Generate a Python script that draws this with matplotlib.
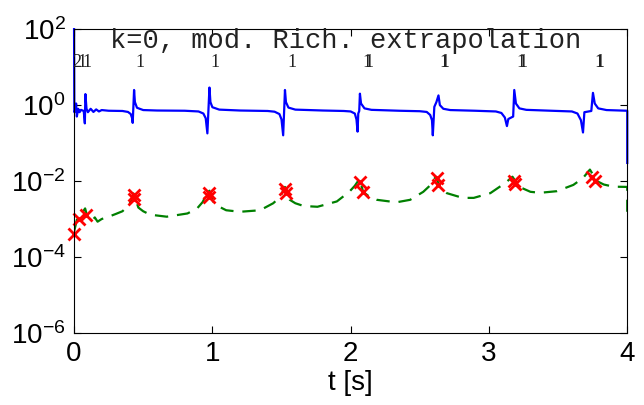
import matplotlib
matplotlib.use("Agg")
import matplotlib.pyplot as plt

plt.rcParams["font.family"] = ["Liberation Sans", "DejaVu Sans"]
plt.rcParams["mathtext.fontset"] = "custom"
plt.rcParams["mathtext.rm"] = "Liberation Sans"
plt.rcParams["mathtext.it"] = "Liberation Sans:italic"

# blue curve
t_blue = [0.0, 0.002, 0.01, 0.015, 0.02, 0.03, 0.04, 0.05, 0.07, 0.078, 0.082,
          0.09, 0.1, 0.12, 0.14, 0.16, 0.18, 0.2, 0.25, 0.35,
          0.39, 0.41, 0.42, 0.424, 0.434, 0.44, 0.455, 0.5, 0.6, 0.8,
          0.9, 0.935, 0.952, 0.964, 0.979, 0.986, 1.0, 1.05, 1.2, 1.4,
          1.45, 1.485, 1.5, 1.512, 1.525, 1.532, 1.55, 1.6, 1.8, 1.95,
          2.0, 2.03, 2.042, 2.05, 2.055, 2.062, 2.067, 2.075, 2.1, 2.15, 2.35, 2.5,
          2.55, 2.575, 2.588, 2.594, 2.605, 2.62, 2.635, 2.645, 2.67, 2.72, 2.9, 3.05,
          3.09, 3.115, 3.13, 3.14, 3.175, 3.183, 3.195, 3.22, 3.27, 3.45, 3.6,
          3.64, 3.665, 3.68, 3.69, 3.74, 3.752, 3.765, 3.79, 3.85, 4.0, 4.0]
y_blue = [100, 0.65, 0.75, 1.1, 0.5, 0.8, 0.65, 0.75, 0.7, 0.33, 1.95,
          0.8, 0.65, 0.8, 0.66, 0.77, 0.68, 0.74, 0.71, 0.7,
          0.66, 0.58, 0.45, 0.34, 2.5, 1.2, 0.85, 0.74, 0.72, 0.71,
          0.68, 0.6, 0.45, 0.18, 2.9, 1.2, 0.88, 0.76, 0.72, 0.7,
          0.67, 0.58, 0.42, 0.16, 2.5, 1.2, 0.86, 0.76, 0.72, 0.7,
          0.68, 0.6, 0.42, 0.2, 0.6, 0.7, 2.0, 1.1, 0.82, 0.75, 0.71, 0.69,
          0.66, 0.55, 0.4, 0.16, 0.9, 1.2, 1.8, 1.0, 0.8, 0.74, 0.71, 0.68,
          0.62, 0.47, 0.28, 0.43, 0.5, 2.5, 1.1, 0.82, 0.75, 0.71, 0.68,
          0.6, 0.4, 0.19, 0.65, 0.7, 2.1, 1.1, 0.82, 0.74, 0.71, 0.03]

# green dashed curve
t_green = [0.0, 0.02, 0.05, 0.08, 0.1, 0.13, 0.15, 0.17, 0.2, 0.25, 0.3, 0.35, 0.4, 0.43,
           0.465, 0.5, 0.55, 0.67, 0.82, 0.89, 0.93, 0.975,
           1.005, 1.05, 1.1, 1.2, 1.345, 1.44, 1.49, 1.525,
           1.56, 1.6, 1.66, 1.76, 1.9, 1.99, 2.03, 2.065,
           2.09, 2.13, 2.19, 2.33, 2.43, 2.525, 2.58, 2.615,
           2.65, 2.695, 2.81, 2.89, 3.01, 3.12, 3.17,
           3.22, 3.3, 3.37, 3.49, 3.61, 3.68, 3.73,
           3.78, 3.83, 3.9, 4.0, 4.0]
y_green = [4.6e-4, 9.5e-4, 1.3e-3, 1.9e-3, 1.0e-3, 9e-4, 1.1e-3, 8.5e-4, 1.0e-3, 1.15e-3, 1.35e-3, 1.6e-3, 2.4e-3, 4.7e-3,
           2.0e-3, 1.6e-3, 1.3e-3, 1.15e-3, 1.4e-3, 1.9e-3, 2.8e-3, 6.0e-3,
           2.9e-3, 2.1e-3, 1.7e-3, 1.55e-3, 1.7e-3, 2.6e-3, 3.8e-3, 7.0e-3,
           3.2e-3, 2.6e-3, 2.2e-3, 2.1e-3, 2.9e-3, 5.2e-3, 7.5e-3, 1.15e-2,
           5.2e-3, 4.0e-3, 3.2e-3, 2.75e-3, 3.2e-3, 5.2e-3, 8.0e-3, 1.3e-2,
           6.5e-3, 4.8e-3, 3.6e-3, 3.6e-3, 4.8e-3, 9.0e-3, 1.3e-2,
           7.0e-3, 5.2e-3, 4.9e-3, 5.4e-3, 7.9e-3, 1.2e-2, 2.0e-2,
           1.0e-2, 8.1e-3, 7.1e-3, 7.0e-3, 1.55e-3]

# red crosses
t_red = [0.0, 0.038, 0.087, 0.43, 0.435, 0.977, 0.977, 1.526, 1.53,
         2.07, 2.088, 2.623, 2.63, 3.183, 3.19, 3.745, 3.77]
y_red = [4.1e-4, 9.8e-4, 1.3e-3, 4.3e-3, 3.4e-3, 4.9e-3, 3.8e-3, 6.2e-3, 4.9e-3,
         9.6e-3, 5.2e-3, 1.17e-2, 7.9e-3, 1.0e-2, 8.5e-3, 1.3e-2, 1.0e-2]

# small labels along the top
t_lab = [0.02, 0.06, 0.09, 0.477, 1.02, 1.575, 2.12, 2.13, 2.672, 2.682,
         3.233, 3.243, 3.795, 3.805]
s_lab = ["2", "1", "1", "1", "1", "1", "1", "1", "1", "1", "1", "1", "1", "1"]

fig = plt.figure(figsize=(6.44, 4.05), dpi=100)
ax = fig.add_axes([0.115, 0.178, 0.859, 0.75])

ax.plot(t_blue, y_blue, color="#0000ff", lw=1.6, clip_on=False)
ax.plot(t_green, y_green, color="#008000", lw=1.6, dashes=(6, 4))
ax.plot(t_red, y_red, "x", color="#ff0000", ms=8, mew=2, clip_on=False)

for t, s in zip(t_lab, s_lab):
    ax.text(t, 13, s, ha="center", va="center", fontsize=13,
            family="Liberation Serif", color="#222222")

ax.text(0.49, 0.9375, "k=0, mod. Rich. extrapolation", transform=ax.transAxes,
        ha="center", va="baseline", fontsize=19.5, family="Liberation Mono",
        color="#222222")

ax.set_yscale("log")
ax.set_xlim(0, 4)
ax.set_ylim(1e-6, 1e2)
ax.set_xticks([0, 1, 2, 3, 4])
ax.set_yticks([1e-6, 1e-4, 1e-2, 1e0, 1e2])
ax.minorticks_off()
ax.tick_params(direction="in", length=5, top=True, right=True, labelsize=20, pad=6)
ax.set_xlabel("t [s]", fontsize=20, labelpad=2)

fig.savefig("out.png", dpi=100)
